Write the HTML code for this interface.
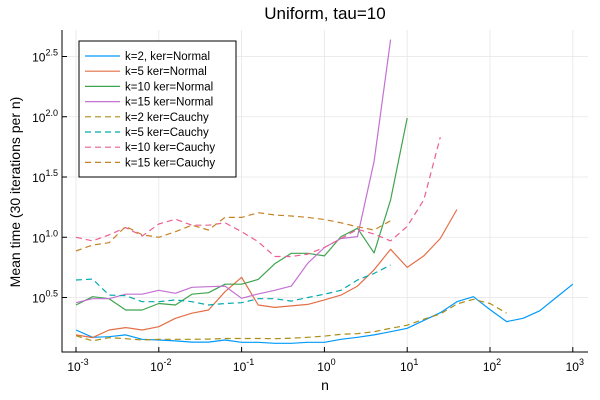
<!DOCTYPE html>
<html><head><meta charset="utf-8">
<style>
body{margin:0;background:#fff;}
svg{display:block;font-family:"Liberation Sans","DejaVu Sans",sans-serif;}
</style></head>
<body>
<svg id="chart" width="600" height="400">
<text x="325" y="19" font-size="17" text-anchor="middle" fill="#000">Uniform, tau=10</text>
<text x="325" y="390" font-size="14" text-anchor="middle">n</text>
<text transform="translate(20,192) rotate(-90)" font-size="14" text-anchor="middle">Mean time (30 iterations per n)</text>
<g id="grid"></g>
<g id="series"></g>
<g id="axes"></g>
<g id="legend"></g>
</svg>
<script>
const xLogs = [-3,-2.8,-2.6,-2.4,-2.2,-2,-1.8,-1.6,-1.4,-1.2,-1,-0.8,-0.6,-0.4,-0.2,0,0.2,0.4,0.6,0.8,1,1.2,1.4,1.6,1.8,2,2.2,2.4,2.6,2.8,3];
const k2Normal = [0.23,0.17,0.175,0.19,0.153,0.147,0.14,0.13,0.13,0.147,0.128,0.128,0.12,0.12,0.128,0.128,0.153,0.17,0.19,0.216,0.244,0.31,0.374,0.465,0.507,0.40,0.30,0.327,0.39,0.50,0.61];
const k5Normal = [0.19,0.167,0.23,0.25,0.23,0.258,0.327,0.37,0.396,0.548,0.668,0.438,0.418,0.43,0.443,0.48,0.52,0.595,0.73,0.9,0.75,0.845,0.99,1.23];
const k10Normal = [0.438,0.507,0.49,0.396,0.396,0.45,0.438,0.527,0.54,0.61,0.61,0.65,0.78,0.867,0.867,0.845,1.005,1.074,0.87,1.31,1.99];
const k15Normal = [0.457,0.49,0.49,0.527,0.527,0.56,0.535,0.585,0.59,0.595,0.493,0.53,0.56,0.595,0.785,0.915,0.99,1.005,1.63,2.64];
const k2Cauchy = [0.183,0.14,0.167,0.158,0.147,0.153,0.153,0.153,0.155,0.16,0.16,0.16,0.158,0.162,0.17,0.18,0.195,0.2,0.216,0.244,0.27,0.32,0.363,0.446,0.485,0.45,0.37];
const k5Cauchy = [0.645,0.653,0.52,0.515,0.465,0.465,0.48,0.465,0.438,0.45,0.457,0.49,0.49,0.47,0.5,0.527,0.56,0.645,0.7,0.77];
const k10Cauchy = [1.0,0.97,1.02,1.08,1.01,1.11,1.15,1.10,1.10,1.12,1.046,0.963,0.84,0.84,0.86,0.915,0.99,1.066,1.027,0.97,1.09,1.31,1.83];
const k15Cauchy = [0.886,0.936,0.955,1.09,1.02,1.0,1.046,1.10,1.06,1.165,1.165,1.204,1.185,1.176,1.165,1.147,1.12,1.087,1.06,1.137];
const seriesNames = ["k=2, ker=Normal","k=5 ker=Normal","k=10 ker=Normal","k=15 ker=Normal","k=2 ker=Cauchy","k=5 ker=Cauchy","k=10 ker=Cauchy","k=15 ker=Cauchy"];
const xTickExps = [-3,-2,-1,0,1,2,3];
const yTickExps = ["0.5","1.0","1.5","2.0","2.5"];

const NS="http://www.w3.org/2000/svg";
const X0=62,XR=588,YT=30,YB=352;
function xs(l){return 76+(l+3)*82.8;}
function ys(v){return 297.5-(v-0.5)*120.5;}
function mk(tag,attrs,parent){const e=document.createElementNS(NS,tag);for(const k in attrs)e.setAttribute(k,attrs[k]);parent.appendChild(e);return e;}
const grid=document.getElementById('grid'),axes=document.getElementById('axes'),ser=document.getElementById('series'),leg=document.getElementById('legend');

xTickExps.forEach(e=>{
  const x=xs(e);
  const g=mk('line',{x1:x,x2:x,y1:YT,y2:YB,stroke:'#e6e6e6','stroke-width':0.8},grid);
  
  
  const t=mk('line',{x1:x,x2:x,y1:YB,y2:YB-5,stroke:'#000','stroke-width':1},axes);
  
  
  const tx=mk('text',{x:x+2,y:YB+19,'font-size':12,'text-anchor':'middle'},axes);
  
  
  tx.innerHTML='10<tspan dy="-6" font-size="9">'+e+'</tspan>';
});
yTickExps.forEach(s=>{
  const y=ys(parseFloat(s));
  const g=mk('line',{x1:X0,x2:XR,y1:y,y2:y,stroke:'#e6e6e6','stroke-width':0.8},grid);
  
  
  const t=mk('line',{x1:X0,x2:X0+5,y1:y,y2:y,stroke:'#000','stroke-width':1},axes);
  
  
  const tx=mk('text',{x:58,y:y+5,'font-size':12,'text-anchor':'end'},axes);
  
  
  tx.innerHTML='10<tspan dy="-6" font-size="9">'+s+'</tspan>';
});
const ax=mk('path',{d:`M${X0},${YT}V${YB}H${XR}`,fill:'none',stroke:'#000','stroke-width':1},axes);



const data=[k2Normal,k5Normal,k10Normal,k15Normal,k2Cauchy,k5Cauchy,k10Cauchy,k15Cauchy];
const colors=["#009AFA","#E36F47","#3EA44E","#C371D2","#AC8E18","#00AAAE","#ED5E93","#C68225"];
const slugs=["k2-normal","k5-normal","k10-normal","k15-normal","k2-cauchy","k5-cauchy","k10-cauchy","k15-cauchy"];
data.forEach((vals,i)=>{
  const pts=vals.map((v,j)=>xs(xLogs[j]).toFixed(1)+','+ys(v).toFixed(1)).join(' ');
  const p=mk('polyline',{points:pts,fill:'none',stroke:colors[i],'stroke-width':1.2,'stroke-linejoin':'round'},ser);
  if(i>=4)p.setAttribute('stroke-dasharray','6 4');
  
  
});
const box=mk('rect',{x:79,y:41,width:157,height:136,fill:'#fff',stroke:'#000','stroke-width':1},leg);


seriesNames.forEach((n,i)=>{
  const y=56+i*15.2;
  const l=mk('line',{x1:85,x2:120,y1:y,y2:y,stroke:colors[i],'stroke-width':1.2},leg);
  if(i>=4)l.setAttribute('stroke-dasharray','6 4');
  
  
  const t=mk('text',{x:125,y:y+4,'font-size':11.5},leg);
  t.textContent=n;
  
  
});
</script>
</body></html>
